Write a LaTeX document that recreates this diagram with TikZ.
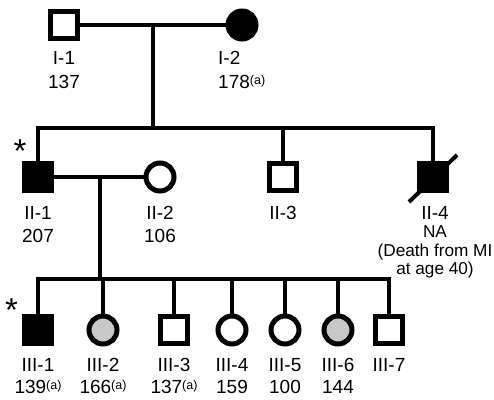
\documentclass[tikz,border=0pt]{standalone}
\usepackage{fontspec}
\setmainfont{Liberation Sans}
\definecolor{affgrey}{RGB}{200,200,200}
\newcommand\lblfont{\fontsize{19}{22}\selectfont}
\newcommand\notefont{\fontsize{17.2}{19}\selectfont}
\newcommand\starfont{\fontsize{33}{36}\selectfont}
\newcommand\footA{\raisebox{4pt}{\fontsize{12.5}{13}\selectfont(a)}}
\tikzset{
  male/.style={rectangle, draw, line width=5pt, minimum size=27pt, inner sep=0pt, outer sep=2.5pt},
  female/.style={circle, draw, line width=5pt, minimum size=28pt, inner sep=0pt, outer sep=2.5pt},
  aff/.style={fill=black},
  part/.style={fill=affgrey},
  unaff/.style={fill=white},
  link/.style={line width=4pt, line join=miter},
  lbl/.style={anchor=base, inner sep=0pt, font=\lblfont},
  note/.style={anchor=base, inner sep=0pt, font=\notefont},
  star/.style={anchor=north, inner sep=0pt, font=\starfont}
}
\begin{document}
\begin{tikzpicture}[x=1pt,y=1pt]
\useasboundingbox (0,0) rectangle (494,399);
% generation I
\node[male, unaff] (I1) at (64,374) {};
\node[female, aff] (I2) at (242,374) {};
% generation II
\node[male, aff] (II1) at (38,222) {};
\node[female, unaff] (II2) at (160,222) {};
\node[male, unaff] (II3) at (283,222) {};
\node[male, aff] (II4) at (433,222) {};
% generation III
\node[male, aff] (III1) at (38,69) {};
\node[female, part] (III2) at (103,69) {};
\node[male, unaff] (III3) at (174,69) {};
\node[female, unaff] (III4) at (232,69) {};
\node[female, unaff] (III5) at (285,69) {};
\node[female, part] (III6) at (338,69) {};
\node[male, unaff] (III7) at (389,69) {};
% helper points
\coordinate (m1) at (153,374);
\coordinate (s2) at (153,271);
\coordinate (m2) at (100,222);
\coordinate (s3) at (100,120);
% connectors
\draw[link] (I1.east) -- (I2.west);
\draw[link] (m1) -- (s2);
\draw[link] (II1.north) |- (s2) -| (II4.north);
\draw[link] (II3.north |- s2) -- (II3.north);
\draw[link] (II1.east) -- (II2.west);
\draw[link] (m2) -- (s3);
\draw[link] (III1.north) |- (s3) -| (III7.north);
\foreach \n in {III2,III3,III4,III5,III6}
  \draw[link] (\n.north |- s3) -- (\n.north);
% deceased mark
\coordinate (d1) at (409,197);
\coordinate (d2) at (457,244);
\draw[line width=4pt] (d1) -- (d2);
% asterisks
\node[star] (st1) at (20,259) {*};
\node[star] (st2) at (11.5,100) {*};
% labels generation I
\node[lbl] (l11) at (64,334) {I-1};
\node[lbl] (v11) at (64,310) {137};
\node[lbl, anchor=base west] (l12) at (218,334) {I-2};
\node[lbl, anchor=base west] (v12) at (218,310) {178\footA};
% labels generation II
\node[lbl] (l21) at (38,180) {II-1};
\node[lbl] (v21) at (38,157) {207};
\node[lbl] (l22) at (160,180) {II-2};
\node[lbl] (v22) at (160,157) {106};
\node[lbl] (l23) at (283,180) {II-3};
\node[lbl] (l24) at (435,180) {II-4};
\node[note] (n1) at (435,162) {NA};
\node[note] (n2) at (435,143) {(Death from MI};
\node[note] (n3) at (435,125) {at age 40)};
% labels generation III
\node[lbl] (l31) at (38,28) {III-1};
\node[lbl] (v31) at (38,6) {139\footA};
\node[lbl] (l32) at (103,28) {III-2};
\node[lbl] (v32) at (103,6) {166\footA};
\node[lbl] (l33) at (174,28) {III-3};
\node[lbl] (v33) at (174,6) {137\footA};
\node[lbl] (l34) at (232,28) {III-4};
\node[lbl] (v34) at (232,6) {159};
\node[lbl] (l35) at (285,28) {III-5};
\node[lbl] (v35) at (285,6) {100};
\node[lbl] (l36) at (338,28) {III-6};
\node[lbl] (v36) at (338,6) {144};
\node[lbl] (l37) at (389,28) {III-7};
\end{tikzpicture}
\end{document}
